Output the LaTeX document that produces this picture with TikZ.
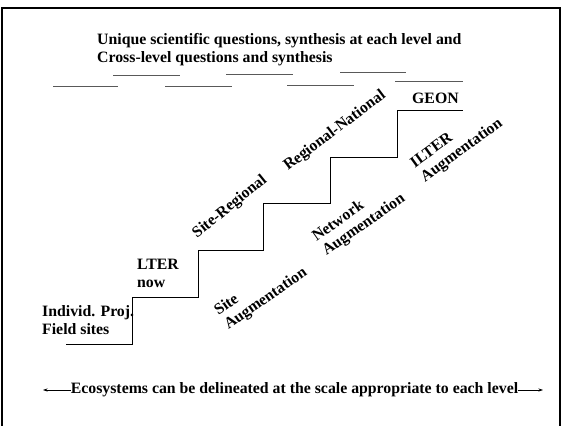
\documentclass[tikz,border=0pt]{standalone}
\usepackage{fontspec}
\setmainfont{Liberation Serif}
\usepackage{tikz}
\usetikzlibrary{arrows.meta, positioning}

\begin{document}
\begin{tikzpicture}[
  x=1pt, y=-1pt,
  lbl/.style={inner sep=0pt, font=\fontsize{15.8}{17.5}\selectfont\bfseries, align=left},
  slant/.style={lbl, anchor=center},
  frame/.style={draw=black, line width=1.3pt},
  stair/.style={draw=black, line width=0.9pt},
  rule/.style={draw=black!65, line width=0.9pt},
  >/.tip={Stealth[length=1.6mm,width=1.1mm]}
]
\useasboundingbox (0,0) rectangle (563,426);

\draw [frame] (2,426) -- (2,8) -- (560,8) -- (560,426);

\node (qst) at (97,62) [lbl, anchor=base west] {Unique scientific questions, synthesis at each level and\\Cross-level questions and synthesis};

\draw [rule] (113,75) -- (180,75);
\draw [rule] (226,74) -- (293,74);
\draw [rule] (340,72) -- (406,72);
\draw [rule] (53,86) -- (118,86);
\draw [rule] (165,86) -- (232,86);
\draw [rule] (287,85) -- (354,85);
\draw [rule] (395,81) -- (463,81);

\node (geon) at (412,103) [lbl, anchor=base west] {GEON};
\node (lter) at (137,287) [lbl, anchor=base west] {LTER\\now};
\node (indiv) at (42,334) [lbl, anchor=base west] {Individ. Proj.\\Field sites};

\draw [stair] (66,344) -- (132,344) -- (132,297) -- (198,297) -- (198,250) -- (263,250)
  -- (263,203) -- (330,203) -- (330,157) -- (397,157) -- (397,110) -- (463,110);

\node (sitereg) at (230,207) [slant, rotate=39] {Site-Regional};
\node (regnat) at (335,131) [slant, rotate=37] {Regional-National};
\node (siteaug) at (261,292) [slant, rotate=35] {Site\\Augmentation};
\node (netaug) at (359,218) [slant, rotate=35] {Network\\Augmentation};
\node (ilteraug) at (457,144) [slant, rotate=36] {ILTER\\Augmentation};

\node (eco) at (294.5,390) [lbl] {Ecosystems can be delineated at the scale appropriate to each level};
\coordinate (ecoL) at (43,390);
\coordinate (ecoR) at (543,390);
\draw [->, line width=0.8pt] (eco.west) -- (ecoL);
\draw [->, line width=0.8pt] (eco.east) -- (ecoR);

\end{tikzpicture}
\end{document}
